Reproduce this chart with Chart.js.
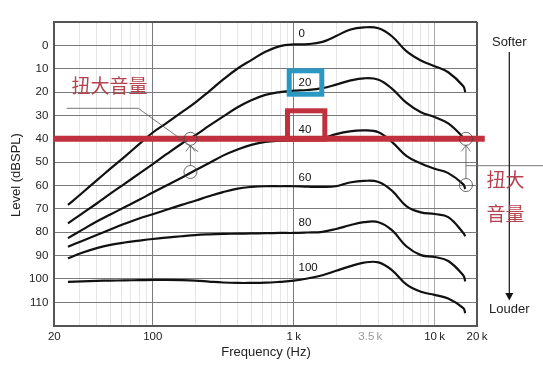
<!DOCTYPE html>
<html>
<head>
<meta charset="utf-8">
<script src="https://cdn.jsdelivr.net/npm/chart.js@4.4.0/dist/chart.umd.min.js"></script>
<style>
  body { margin: 0; background: #fff; }
  #chart { display: block; }
</style>
</head>
<body>
<canvas id="chart" width="543" height="367"></canvas>
<script>
const freqs = [25, 31.5, 40, 50, 63, 80, 100, 125, 160, 200, 250, 315, 400, 500, 630, 800,
  1000, 1250, 1600, 2000, 2500, 3150, 4000, 5000, 6300, 8000, 10000, 12500, 16000, 16500];

// loudness levels of the contours (phon)
const phonLevels = [0, 20, 40, 60, 80, 100];

// level in dB SPL for each contour
const curve0 = [68.3, 63.2, 57.8, 52.8, 47.7, 42.3, 37.3, 33.3, 28.7, 24.5, 19.8, 14.7, 9.9, 6.3, 2.7, 0.3,
  -0.4, -0.5, -1.5, -4, -6.7, -7.7, -7.3, -3.8, 2.5, 6.5, 8.9, 11.5, 17.5, 20];
const curve20 = [76.2, 72.0, 67.7, 63.5, 59.3, 54.9, 50.8, 46.6, 42.1, 38.5, 34.5, 30.5, 26.5, 23.5, 21.2, 20,
  19.4, 19.1, 18.3, 16.8, 15.1, 14.1, 14.7, 18.6, 24.5, 28.6, 30.7, 33.4, 39.5, 41];
const curve40 = [82.5, 79, 75.4, 72.4, 69.3, 66.1, 63, 60, 56.7, 53.5, 50.5, 47.2, 44.6, 42.6, 41.3, 40.8,
  40.6, 40.4, 39.8, 38, 36.8, 36.4, 37.2, 41.4, 47.3, 50.6, 52.8, 54.7, 59.5, 61.5];
const curve60 = [86.2, 83.7, 81.2, 78.8, 76.4, 74.1, 72.3, 70.4, 68.3, 66.5, 64.6, 62.8, 61.3, 60.6, 60.3, 60.3,
  60.3, 60.5, 60.6, 60.3, 58.7, 58, 58.5, 62.3, 68.8, 71.5, 72.2, 73.5, 80.3, 81.7];
const curve80 = [91.1, 88.8, 86.8, 85.4, 84.4, 83.6, 82.9, 82.3, 81.7, 81.2, 80.9, 80.7, 80.6, 80.5, 80.4, 80.3,
  80.3, 80.1, 79.8, 78.6, 77.0, 75.7, 75.7, 79.2, 86.0, 89.8, 90.6, 92.3, 98.5, 101];
const curve100 = [101.2, 101, 100.8, 100.7, 100.6, 100.5, 100.4, 100.4, 100.5, 100.7, 101.1, 101.5, 101.7, 101.7, 101.6, 101.2,
  100.7, 99.8, 98.4, 96.5, 94.6, 93, 92.9, 96.3, 102.3, 105.5, 106.8, 108.4, 112.5, 114.6];
const curves = [curve0, curve20, curve40, curve60, curve80, curve100];

// highlighted level (dB SPL) and the span of the red line
const refLevel = 40;
const refSpan = [19.6, 22700];

// marked points: circles
const circleFreqs = [185, 185, 16700, 16700];
const circleLevels = [40, 54.2, 40, 59.8];

// x axis tick labels
const xTickValues = [20, 100, 1000, 3500, 10000, 20000];
const xTickText = ['20', '100', '1\u2009k', '3.5\u2009k', '10\u2009k', '20\u2009k'];

// grid positions on the log axis
const gridFreqs = [];
[10, 100, 1000].forEach(d => { for (let m = 1; m <= 9; m++) { if (m * d >= 20) gridFreqs.push(m * d); } });
gridFreqs.push(10000, 20000);

const FONT = '"Liberation Sans", Arial, sans-serif';
const CJK = '"Noto Sans CJK SC", sans-serif';
const RED = '#c0303d';
const PINK = '#b4424f';

function arrowUp(ctx, x, yTop, yBottom) {
  ctx.beginPath();
  ctx.moveTo(x, yBottom);
  ctx.lineTo(x, yTop);
  ctx.moveTo(x - 4.5, yTop + 6);
  ctx.lineTo(x, yTop);
  ctx.lineTo(x + 4.5, yTop + 6);
  ctx.stroke();
}

const overlay = {
  id: 'overlay',
  afterDatasetsDraw(chart) {
    const ctx = chart.ctx;
    const xs = chart.scales.x, ys = chart.scales.y;
    ctx.save();

    // contour labels
    ctx.fillStyle = '#111';
    ctx.font = '11.5px ' + FONT;
    ctx.textAlign = 'left';
    ctx.textBaseline = 'middle';
    const labelY = [34.3, 82.7, 130, 178.3, 222.7, 268.3];
    phonLevels.forEach((p, i) => ctx.fillText(String(p), 298.5, labelY[i]));

    // highlight boxes
    ctx.lineWidth = 5;
    ctx.strokeStyle = '#2b98c2';
    ctx.strokeRect(289.2, 70.8, 32.6, 23.4);
    ctx.strokeStyle = RED;
    ctx.strokeRect(287.5, 110.8, 37.3, 28.4);

    // leader line from the left note
    ctx.strokeStyle = '#555';
    ctx.lineWidth = 0.8;
    ctx.beginPath();
    ctx.moveTo(66.7, 108.3);
    ctx.lineTo(138.3, 108.3);
    ctx.lineTo(198.3, 151.7);
    ctx.stroke();

    // arrows between circles
    const r = 6.5;
    const xl = xs.getPixelForValue(circleFreqs[0]);
    arrowUp(ctx, xl, ys.getPixelForValue(circleLevels[0]) + r, ys.getPixelForValue(circleLevels[1]) - r);
    const xr = xs.getPixelForValue(circleFreqs[2]);
    arrowUp(ctx, xr, ys.getPixelForValue(circleLevels[2]) + r, ys.getPixelForValue(circleLevels[3]) - r);

    ctx.strokeStyle = '#777';
    ctx.lineWidth = 1;
    ctx.beginPath();
    ctx.moveTo(xr, 165.7);
    ctx.lineTo(543, 165.7);
    ctx.stroke();

    // Softer / Louder arrow
    ctx.strokeStyle = '#111';
    ctx.lineWidth = 1.2;
    ctx.beginPath();
    ctx.moveTo(509.3, 52);
    ctx.lineTo(509.3, 296);
    ctx.stroke();
    ctx.fillStyle = '#111';
    ctx.beginPath();
    ctx.moveTo(505.3, 293);
    ctx.lineTo(513.3, 293);
    ctx.lineTo(509.3, 300.5);
    ctx.closePath();
    ctx.fill();
    ctx.font = '13px ' + FONT;
    ctx.textAlign = 'center';
    ctx.fillStyle = '#222';
    ctx.fillText('Softer', 509.3, 42);
    ctx.fillText('Louder', 509.3, 309.5);

    // Chinese notes
    ctx.fillStyle = PINK;
    ctx.font = '19px ' + CJK;
    ctx.textAlign = 'left';
    ctx.fillText('扭大音量', 71.5, 86);
    ctx.fillText('扭大', 486.5, 180);
    ctx.fillText('音量', 486.5, 214);

    // axis titles
    ctx.fillStyle = '#222';
    ctx.font = '13px ' + FONT;
    ctx.textAlign = 'center';
    ctx.fillText('Frequency (Hz)', 266, 352.5);
    ctx.translate(16, 175);
    ctx.rotate(-Math.PI / 2);
    ctx.fillText('Level (dBSPL)', 0, 0);
    ctx.restore();
  }
};

const curveSets = curves.map((vals, i) => ({
  label: phonLevels[i] + ' phon',
  data: freqs.map((f, j) => ({ x: f, y: vals[j] })),
  borderColor: '#111',
  borderWidth: 2.2,
  pointRadius: 0,
  tension: 0.4,
  fill: false,
  order: 3
}));

const isEdge = v => v === 20 || v === 20000;
const isMajor = v => v === 100 || v === 1000 || v === 10000;

new Chart(document.getElementById('chart'), {
  type: 'line',
  data: {
    datasets: [
      {
        label: 'circles',
        data: circleFreqs.map((f, i) => ({ x: f, y: circleLevels[i] })),
        showLine: false,
        pointRadius: 6.5,
        pointBorderWidth: 0.8,
        pointBorderColor: '#444',
        pointBackgroundColor: 'rgba(0,0,0,0)',
        order: 0
      },
      {
        label: 'reference',
        data: refSpan.map(f => ({ x: f, y: refLevel })),
        borderColor: RED,
        borderWidth: 6,
        pointRadius: 0,
        clip: false,
        order: 1
      },
      ...curveSets
    ]
  },
  options: {
    responsive: false,
    animation: false,
    layout: { padding: { top: 22, right: 66, left: 0, bottom: 0 } },
    plugins: { legend: { display: false }, tooltip: { enabled: false } },
    scales: {
      x: {
        type: 'logarithmic',
        min: 20,
        max: 20000,
        afterBuildTicks: scale => {
          scale.ticks = gridFreqs.concat([3500]).sort((a, b) => a - b).map(v => ({ value: v }));
        },
        afterFit: scale => { scale.height = 41.3; },
        ticks: {
          autoSkip: false,
          maxRotation: 0,
          padding: 4,
          font: { size: 11.5, family: FONT },
          color: c => (c.tick && c.tick.value === 3500 ? '#999' : '#222'),
          callback: v => {
            const i = xTickValues.indexOf(v);
            return i >= 0 ? xTickText[i] : '';
          }
        },
        grid: {
          drawTicks: false,
          color: c => {
            const v = c.tick ? c.tick.value : 0;
            if (v === 3500) return 'rgba(0,0,0,0)';
            if (isEdge(v)) return '#555';
            if (v === 10000) return '#aaa';
            if (isMajor(v)) return '#7a7a7a';
            return '#e6e6e6';
          },
          lineWidth: c => (c.tick && isEdge(c.tick.value) ? 2 : 1)
        },
        border: { color: '#555', width: 2 }
      },
      y: {
        reverse: true,
        min: -10,
        max: 120,
        afterFit: scale => { scale.width = 54.3; },
        ticks: {
          stepSize: 10,
          padding: 6,
          font: { size: 11.5, family: FONT },
          color: '#222',
          callback: v => (v === -10 || v === 120 ? '' : v)
        },
        grid: {
          drawTicks: false,
          color: c => (c.tick && (c.tick.value === -10 || c.tick.value === 120) ? '#555' : '#7a7a7a'),
          lineWidth: c => (c.tick && (c.tick.value === -10 || c.tick.value === 120) ? 2 : 1)
        },
        border: { color: '#555', width: 2 }
      }
    }
  },
  plugins: [overlay]
});
</script>
</body>
</html>
